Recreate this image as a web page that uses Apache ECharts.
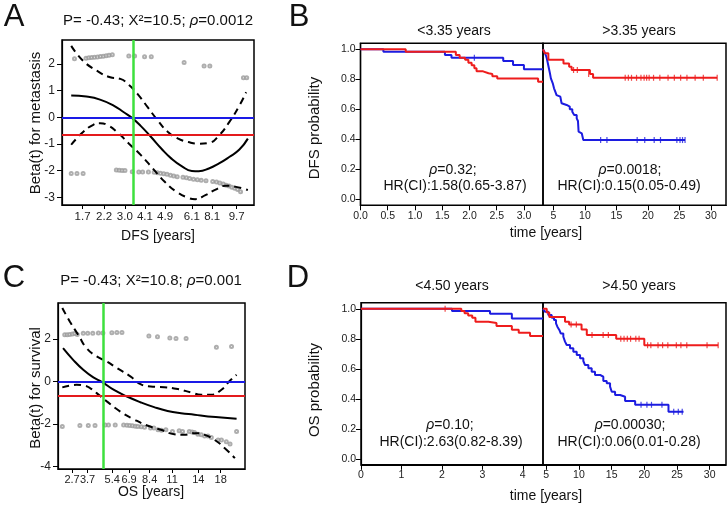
<!DOCTYPE html>
<html><head><meta charset="utf-8">
<script src="https://cdn.jsdelivr.net/npm/echarts@6/dist/echarts.min.js"></script>
<style>html,body{margin:0;padding:0;background:#fff}#c{width:727px;height:505px}</style>
</head><body><div id="c"></div>
<script>
// ---------- Panel A (DFS, Schoenfeld residual plot, x = transformed time 0..1) ----------
const aXTickPos = [0.107,0.219,0.327,0.432,0.537,0.676,0.782,0.91];
const aXTickLab = ['1.7','2.2','3.0','4.1','4.9','6.1','8.1','9.7'];
const aYTicks = [-3,-2,-1,0,1,2];
const aBlue = 0, aRed = -0.65, aGreen = 0.366;
const aFit = [[0.048,0.815],[0.127,0.777],[0.198,0.665],[0.269,0.44],[0.322,0.19],[0.366,-0.03],[0.411,-0.33],[0.464,-0.74],[0.517,-1.17],[0.57,-1.55],[0.623,-1.83],[0.676,-2.01],[0.712,-2.02],[0.765,-1.92],[0.818,-1.73],[0.871,-1.49],[0.924,-1.21],[0.968,-0.80]];
const aUpper = [[0.048,2.68],[0.11,2.12],[0.181,1.75],[0.251,1.50],[0.304,1.44],[0.349,1.21],[0.393,0.88],[0.446,0.38],[0.499,-0.12],[0.552,-0.55],[0.605,-0.80],[0.658,-0.93],[0.712,-0.99],[0.765,-0.96],[0.818,-0.68],[0.871,-0.18],[0.924,0.44],[0.959,0.94]];
const aLower = [[0.048,-1.03],[0.11,-0.55],[0.163,-0.28],[0.198,-0.22],[0.234,-0.28],[0.287,-0.55],[0.349,-0.99],[0.411,-1.42],[0.473,-1.92],[0.535,-2.42],[0.596,-2.79],[0.658,-3.02],[0.694,-3.07],[0.747,-2.92],[0.80,-2.71],[0.853,-2.57],[0.906,-2.61],[0.968,-2.73]];
const aDotsHigh = [[0.065,2.2],[0.125,2.22],[0.14,2.23],[0.155,2.24],[0.17,2.25],[0.185,2.26],[0.2,2.28],[0.215,2.29],[0.23,2.31],[0.245,2.33],[0.262,2.35],[0.348,2.3],[0.378,2.3],[0.43,2.27],[0.465,2.27],[0.636,2.06],[0.74,1.92],[0.77,1.92],[0.945,1.48],[0.962,1.48]];
const aDotsLow = [[0.048,-2.11],[0.078,-2.11],[0.11,-2.11],[0.283,-1.98],[0.298,-1.99],[0.313,-2.0],[0.328,-2.0],[0.366,-2.04],[0.40,-2.05],[0.42,-2.05],[0.45,-2.05],[0.48,-2.06],[0.497,-2.08],[0.513,-2.1],[0.53,-2.12],[0.547,-2.14],[0.565,-2.17],[0.582,-2.2],[0.6,-2.23],[0.63,-2.25],[0.648,-2.27],[0.665,-2.3],[0.685,-2.32],[0.705,-2.34],[0.725,-2.36],[0.75,-2.38],[0.785,-2.41],[0.805,-2.43],[0.822,-2.46],[0.84,-2.5],[0.855,-2.55],[0.87,-2.58],[0.885,-2.62],[0.9,-2.66],[0.915,-2.71],[0.93,-2.79]];

// ---------- Panel C (OS) ----------
const cXTickPos = [0.075,0.158,0.29,0.38,0.49,0.61,0.75,0.87];
const cXTickLab = ['2.7','3.7','5.4','6.9','8.4','11','14','18'];
const cYTicks = [-4,-2,0,2];
const cBlue = 0, cRed = -0.69, cGreen = 0.24;
const cFit = [[0.027,1.57],[0.081,1.02],[0.135,0.55],[0.189,0.19],[0.236,-0.03],[0.297,-0.39],[0.369,-0.71],[0.441,-0.98],[0.514,-1.21],[0.586,-1.39],[0.658,-1.50],[0.73,-1.57],[0.802,-1.65],[0.874,-1.70],[0.955,-1.76]];
const cUpper = [[0.023,3.46],[0.063,2.83],[0.108,2.20],[0.153,1.57],[0.207,1.18],[0.261,0.94],[0.315,0.63],[0.387,0.24],[0.441,-0.13],[0.495,-0.24],[0.568,-0.27],[0.64,-0.36],[0.712,-0.52],[0.766,-0.63],[0.82,-0.63],[0.874,-0.39],[0.919,0.03],[0.955,0.31]];
const cLower = [[0.023,-0.28],[0.063,-0.20],[0.099,-0.16],[0.135,-0.19],[0.171,-0.31],[0.207,-0.55],[0.261,-0.94],[0.333,-1.42],[0.405,-1.78],[0.477,-2.08],[0.55,-2.28],[0.622,-2.49],[0.676,-2.52],[0.73,-2.44],[0.784,-2.52],[0.838,-2.76],[0.892,-3.15],[0.946,-3.62]];
const cDotsHigh = [[0.036,2.2],[0.049,2.2],[0.063,2.22],[0.077,2.24],[0.09,2.26],[0.103,2.22],[0.135,2.27],[0.159,2.27],[0.186,2.27],[0.216,2.29],[0.24,2.29],[0.288,2.3],[0.315,2.31],[0.342,2.31],[0.486,2.14],[0.532,2.11],[0.598,2.05],[0.631,2.03],[0.685,2.02],[0.847,1.61],[0.928,1.65]];
const cDotsLow = [[0.023,-2.13],[0.117,-2.08],[0.162,-2.08],[0.198,-2.08],[0.252,-2.05],[0.27,-2.05],[0.306,-2.05],[0.351,-2.05],[0.369,-2.07],[0.384,-2.08],[0.398,-2.09],[0.413,-2.11],[0.427,-2.13],[0.445,-2.14],[0.463,-2.16],[0.495,-2.2],[0.513,-2.2],[0.535,-2.28],[0.553,-2.3],[0.577,-2.28],[0.612,-2.36],[0.648,-2.33],[0.666,-2.36],[0.702,-2.36],[0.717,-2.39],[0.73,-2.41],[0.748,-2.49],[0.766,-2.52],[0.784,-2.57],[0.802,-2.57],[0.82,-2.65],[0.856,-2.76],[0.874,-2.76],[0.9,-2.84],[0.92,-2.95],[0.955,-2.36]];

// ---------- Panel B (DFS Kaplan-Meier, split at 3.35 years) ----------
const bSplit = 3.35, bEnd = 32.4;
const bLeftTicks = [0,0.5,1.0,1.5,2.0,2.5,3.0];
const bRightTicks = [5,10,15,20,25,30];
const kmYTicks = [0,0.2,0.4,0.6,0.8,1.0];
const bLeftRed = [[0,1],[0.83,0.984],[1.75,0.962],[1.82,0.944],[1.92,0.93],[1.98,0.91],[2.04,0.893],[2.09,0.873],[2.13,0.853],[2.25,0.84],[2.35,0.835],[2.42,0.82],[2.51,0.805],[3.26,0.784],[3.35,0.784]];
const bLeftBlue = [[0,1],[0.42,0.984],[1.55,0.962],[1.67,0.944],[2.62,0.922],[2.8,0.895],[3.0,0.867],[3.35,0.867]];
const bLeftBlueCens = [[2.09,0.944]];
const bRightRed = [[3.35,1],[3.65,0.973],[4.2,0.93],[6.6,0.905],[7.5,0.884],[7.9,0.862],[10.8,0.835],[11.3,0.81],[31.0,0.81]];
const bRightRedCens = [[8.2,0.862],[8.8,0.862],[10.6,0.835],[16.4,0.81],[16.9,0.81],[17.4,0.81],[18.2,0.81],[18.9,0.81],[19.4,0.81],[19.8,0.81],[20.2,0.81],[20.9,0.81],[21.9,0.81],[23.2,0.81],[24.2,0.81],[25.2,0.81],[26.2,0.81],[27.5,0.81],[28.8,0.81],[31.0,0.81]];
const bRightBlue = [[3.35,1],[3.6,0.98],[3.8,0.96],[3.95,0.94],[4.1,0.91],[4.3,0.87],[4.45,0.84],[4.6,0.806],[4.9,0.773],[5.1,0.74],[5.3,0.718],[5.5,0.695],[5.8,0.684],[6.1,0.673],[6.3,0.64],[6.6,0.629],[7.1,0.618],[7.6,0.6],[8.0,0.584],[8.3,0.562],[8.7,0.54],[8.9,0.522],[9.0,0.451],[9.3,0.44],[9.5,0.43],[9.75,0.395],[25.9,0.395]];
const bRightBlueCens = [[12.5,0.395],[13.5,0.395],[18.3,0.395],[19.5,0.395],[21.0,0.395],[22.0,0.395],[24.6,0.395],[25.1,0.395],[25.5,0.395],[25.9,0.395]];

// ---------- Panel D (OS Kaplan-Meier, split at 4.50 years) ----------
const dSplit = 4.5, dEnd = 32.5;
const dLeftTicks = [0,1,2,3,4];
const dRightTicks = [5,10,15,20,25,30];
const dLeftRed = [[0,1],[2.48,0.985],[2.56,0.97],[2.65,0.955],[2.75,0.94],[2.83,0.914],[3.15,0.905],[3.35,0.885],[3.73,0.86],[3.9,0.84],[4.18,0.818],[4.5,0.818]];
const dLeftRedCens = [[2.08,1.0]];
const dLeftBlue = [[0,1],[2.25,0.985],[3.19,0.967],[3.73,0.935],[4.5,0.935]];
const dRightRed = [[4.5,1],[5.07,0.975],[5.46,0.945],[7.87,0.914],[8.5,0.895],[10.4,0.862],[11.2,0.825],[15.7,0.8],[20.0,0.757],[31.3,0.757]];
const dRightRedCens = [[8.8,0.895],[9.6,0.895],[12.0,0.825],[13.7,0.825],[14.5,0.825],[16.4,0.8],[16.9,0.8],[17.4,0.8],[17.9,0.8],[18.7,0.8],[19.2,0.8],[20.5,0.757],[21.0,0.757],[22.1,0.757],[22.8,0.757],[23.6,0.757],[24.9,0.757],[25.6,0.757],[26.5,0.757],[29.6,0.757],[31.3,0.757]];
const dRightBlue = [[4.5,1],[4.8,0.98],[5.31,0.959],[5.83,0.941],[6.18,0.925],[6.49,0.903],[6.7,0.881],[7.0,0.859],[7.21,0.836],[7.61,0.814],[7.87,0.781],[8.13,0.759],[8.63,0.737],[9.14,0.714],[9.66,0.692],[10.17,0.67],[10.67,0.652],[10.93,0.625],[11.44,0.603],[11.95,0.581],[12.46,0.559],[13.23,0.547],[13.73,0.519],[14.25,0.503],[14.76,0.481],[15.02,0.447],[15.53,0.425],[16.3,0.414],[17.06,0.385],[18.6,0.36],[23.7,0.314],[26.0,0.314]];
const dRightBlueCens = [[19.5,0.36],[20.4,0.36],[21.1,0.36],[22.7,0.36],[24.5,0.314],[25.2,0.314],[25.8,0.314]];

// ---------- texts ----------
const panelLetters = ['A','B','C','D'];
const titleA = 'P= -0.43; X²=10.5; {i|ρ}=0.0012';
const titleC = 'P= -0.43; X²=10.8; {i|ρ}=0.001';
const bHeads = ['<3.35 years','>3.35 years'];
const dHeads = ['<4.50 years','>4.50 years'];
const bStats = [['{i|ρ}=0.32;','HR(CI):1.58(0.65-3.87)'],['{i|ρ}=0.0018;','HR(CI):0.15(0.05-0.49)']];
const dStats = [['{i|ρ}=0.10;','HR(CI):2.63(0.82-8.39)'],['{i|ρ}=0.00030;','HR(CI):0.06(0.01-0.28)']];

const FF = 'Liberation Sans, Arial, Helvetica, sans-serif';
const RED = '#e41a1c', BLUE = '#1a1ae6', GREEN = '#3ee03e', KMRED = '#ee1c1c', KMBLUE = '#1c1ce0';

function nearestLabel(pos, labs) {
  return function (v) { let bi = 0, bd = 1e9; pos.forEach((p, k) => { const d = Math.abs(p - v); if (d < bd) { bd = d; bi = k; } }); return labs[bi]; };
}
function valAxis(gi, min, max, ticks, fmt, opts) {
  opts = opts || {};
  return {
    gridIndex: gi, type: 'value', min: min, max: max, show: opts.show !== false,
    axisLine: { show: true, onZero: false, lineStyle: { color: '#000', width: 1.2 } },
    axisTick: { show: true, customValues: ticks, length: opts.tickLen || 5, inside: false, lineStyle: { color: '#000', width: 1 } },
    axisLabel: { show: true, customValues: ticks, formatter: fmt, fontSize: opts.fs || 10.5, fontFamily: FF, color: opts.lc || '#222', margin: opts.margin || 6, hideOverlap: false, showMinLabel: true, showMaxLabel: true },
    splitLine: { show: false }
  };
}
const gridStyle = { show: true, borderColor: '#000', borderWidth: 1.5, backgroundColor: 'transparent', containLabel: false };
const grids = [
  Object.assign({ left: 62, top: 40, width: 192, height: 165 }, gridStyle),
  Object.assign({ left: 58, top: 303, width: 187, height: 166 }, gridStyle),
  Object.assign({ left: 360.5, top: 43.3, width: 182.5, height: 162 }, gridStyle),
  Object.assign({ left: 543, top: 43.3, width: 183, height: 162 }, gridStyle),
  Object.assign({ left: 361, top: 302.8, width: 182, height: 162 }, gridStyle),
  Object.assign({ left: 543, top: 302.8, width: 183, height: 162 }, gridStyle)
];
const intFmt = v => String(Math.round(v));
const f1 = v => v.toFixed(1);
const xAxes = [
  valAxis(0, 0, 1, aXTickPos, nearestLabel(aXTickPos, aXTickLab), { fs: 11.5, tickLen: 4, margin: 6 }),
  valAxis(1, 0, 1, cXTickPos, nearestLabel(cXTickPos, cXTickLab), { fs: 11, tickLen: 4, margin: 5 }),
  valAxis(2, 0, bSplit, bLeftTicks, f1, { margin: 5 }),
  valAxis(3, bSplit, bEnd, bRightTicks, intFmt, { margin: 5 }),
  valAxis(4, 0, dSplit, dLeftTicks, intFmt, { margin: 5 }),
  valAxis(5, dSplit, dEnd, dRightTicks, intFmt, { margin: 5 })
];
const yAxes = [
  valAxis(0, -3.29, 2.9, aYTicks, intFmt, { fs: 12, tickLen: 5, margin: 7 }),
  valAxis(1, -4.13, 3.7, cYTicks, intFmt, { fs: 12, tickLen: 5, margin: 7 }),
  valAxis(2, -0.04, 1.04, kmYTicks, f1, { margin: 5 }),
  valAxis(3, -0.04, 1.04, kmYTicks, f1, { show: false }),
  valAxis(4, -0.04, 1.04, kmYTicks, f1, { margin: 5 }),
  valAxis(5, -0.04, 1.04, kmYTicks, f1, { show: false })
];

function refLines(hBlue, hRed, vGreen) {
  return {
    silent: true, symbol: 'none', label: { show: false },
    data: [
      { yAxis: hBlue, lineStyle: { color: BLUE, width: 2, type: 'solid' } },
      { yAxis: hRed, lineStyle: { color: RED, width: 2, type: 'solid' } },
      { xAxis: vGreen, lineStyle: { color: GREEN, width: 2.5, type: 'solid' } }
    ]
  };
}
function curve(gi, data, dashed, ml) {
  const s = { type: 'line', xAxisIndex: gi, yAxisIndex: gi, data: data, smooth: 0.5, symbol: 'none', silent: true,
    lineStyle: { color: '#000', width: 2, type: dashed ? [7, 5] : 'solid' }, z: 3 };
  if (ml) s.markLine = ml;
  return s;
}
function dots(gi, data) {
  return { type: 'scatter', xAxisIndex: gi, yAxisIndex: gi, data: data, symbol: 'emptyCircle', symbolSize: 3, silent: true,
    itemStyle: { color: '#9a9a9a', borderColor: '#9a9a9a', borderWidth: 0.7 }, z: 2 };
}
function km(gi, data, color) {
  return { type: 'line', xAxisIndex: gi, yAxisIndex: gi, data: data, step: 'end', symbol: 'none', silent: true,
    lineStyle: { color: color, width: 2 }, z: 3 };
}
function cens(gi, data, color) {
  return { type: 'scatter', xAxisIndex: gi, yAxisIndex: gi, data: data, symbol: 'rect', symbolSize: [1.2, 6], silent: true,
    itemStyle: { color: color, opacity: 0.8 }, z: 4 };
}

const series = [
  dots(0, aDotsHigh.concat(aDotsLow)),
  curve(0, aFit, false, refLines(aBlue, aRed, aGreen)),
  curve(0, aUpper, true), curve(0, aLower, true),
  dots(1, cDotsHigh.concat(cDotsLow)),
  curve(1, cFit, false, refLines(cBlue, cRed, cGreen)),
  curve(1, cUpper, true), curve(1, cLower, true),
  km(2, bLeftBlue, KMBLUE), km(2, bLeftRed, KMRED), cens(2, bLeftBlueCens, KMBLUE),
  km(3, bRightBlue, KMBLUE), km(3, bRightRed, KMRED), cens(3, bRightBlueCens, KMBLUE), cens(3, bRightRedCens, KMRED),
  km(4, dLeftBlue, KMBLUE), km(4, dLeftRed, KMRED), cens(4, dLeftRedCens, KMRED),
  km(5, dRightBlue, KMBLUE), km(5, dRightRed, KMRED), cens(5, dRightBlueCens, KMBLUE), cens(5, dRightRedCens, KMRED)
];

function txt(x, y, text, size, extra) {
  extra = extra || {};
  return {
    type: 'text', x: x, y: y, rotation: extra.rot || 0, silent: true, z: 100,
    style: {
      text: text, fontSize: size, fontFamily: FF, fill: extra.fill || '#111',
      textAlign: extra.align || 'center', textVerticalAlign: 'middle',
      rich: { i: { fontStyle: 'italic', fontSize: size, fontFamily: FF, fill: extra.fill || '#111' } }
    }
  };
}
const graphics = [
  txt(14, 17, panelLetters[0], 31), txt(299, 17, panelLetters[1], 31),
  txt(14, 278, panelLetters[2], 31), txt(298, 278, panelLetters[3], 31),
  txt(158, 21, titleA, 15), txt(151, 281, titleC, 15),
  txt(36, 123, 'Beta(t) for metastasis', 15, { rot: Math.PI / 2 }),
  txt(36, 388, 'Beta(t) for survival', 15, { rot: Math.PI / 2 }),
  txt(158, 236, 'DFS [years]', 14), txt(151, 492, 'OS [years]', 14),
  txt(315, 128, 'DFS probability', 15, { rot: Math.PI / 2 }),
  txt(315, 390, 'OS probability', 15, { rot: Math.PI / 2 }),
  txt(454, 31, bHeads[0], 14), txt(639, 31, bHeads[1], 14),
  txt(452, 286, dHeads[0], 14), txt(639, 286, dHeads[1], 14),
  txt(453, 170, bStats[0][0], 14), txt(455, 186, bStats[0][1], 14),
  txt(630, 170, bStats[1][0], 14), txt(629, 186, bStats[1][1], 14),
  txt(450, 425, dStats[0][0], 14), txt(451, 442, dStats[0][1], 14),
  txt(630, 425, dStats[1][0], 14), txt(629, 442, dStats[1][1], 14),
  txt(546, 233, 'time [years]', 14), txt(546, 496, 'time [years]', 14)
];

const chart = echarts.init(document.getElementById('c'), null, { renderer: 'canvas' });
chart.setOption({
  animation: false, backgroundColor: '#fff',
  grid: grids, xAxis: xAxes, yAxis: yAxes, series: series, graphic: graphics
});
</script></body></html>
